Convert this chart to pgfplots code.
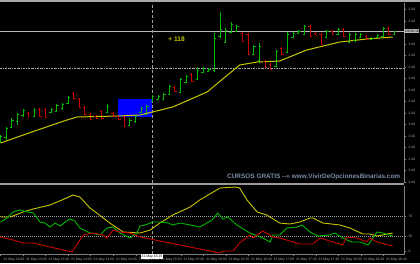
\documentclass[border=0pt]{standalone}
\usepackage{pgfplots}
\pgfplotsset{compat=1.18}
\usepackage{pgfplotstable}
\usepackage{graphicx}
\usepackage{fontspec}
\setmainfont{Liberation Sans}
\definecolor{upg}{RGB}{0,185,0}
\definecolor{dnr}{RGB}{200,0,0}
\definecolor{mayel}{RGB}{200,200,0}
\definecolor{axgray}{RGB}{128,128,128}
\definecolor{lblgray}{RGB}{170,170,170}
\definecolor{wm}{RGB}{125,140,165}
\pgfdeclareplotmark{otick}{\pgfpathmoveto{\pgfqpoint{-1.8pt}{0pt}}\pgfpathlineto{\pgfqpoint{0pt}{0pt}}\pgfusepathqstroke}
\pgfdeclareplotmark{ctick}{\pgfpathmoveto{\pgfqpoint{0pt}{0pt}}\pgfpathlineto{\pgfqpoint{1.8pt}{0pt}}\pgfusepathqstroke}

\pgfplotstableread{
i hi lo op cl
0 23984.5 23980.5 23981.5 23984
1 23988.5 23982 23983.5 23988
2 23993 23988 23988.5 23992
3 23995.5 23989.5 23991.5 23995
4 23997.5 23993.5 23994.5 23997
6 23998 23993.5 23994 23997
9 23998 23995.5 23996 23997.5
10 24000 23996 23996.5 23999.5
11 24000.5 23997 23998 24000
12 24004 24000 24000.5 24003.5
19 24000 23995.5 23996 23999
23 23993 23989 23989.5 23992
24 23994.5 23990.5 23991.5 23994
25 23998.5 23995.5 23996 23998
26 23999.5 23994.5 23995 23999
27 24004.5 24001 24001.5 24004
28 24004.5 24002 24002.5 24004
29 24005.5 24002 24002.5 24005
30 24009.5 24004.5 24005 24009
32 24013 24005.5 24006 24012.5
33 24014.5 24010.5 24011 24014
35 24018.5 24012 24012.5 24017
36 24018.5 24015.5 24016 24018
37 24018 24016 24016.5 24017.5
38 24035.5 24016 24017 24033
39 24046 24033 24034 24037.5
40 24038 24030.5 24031 24037
41 24041 24035.5 24036 24040
42 24039.5 24036 24036.5 24039
45 24029.5 24024.5 24025 24029
46 24030.5 24020.5 24022 24029
49 24027 24018.5 24019 24026.5
51 24036 24025.5 24026 24035
52 24036 24033 24033.5 24035.5
53 24037 24035.5 24035.5 24036.5
54 24039.5 24034.5 24035 24039
58 24037 24033 24033.5 24036.5
60 24038 24034.5 24035 24037.5
62 24035.5 24030.5 24031 24035
63 24035.5 24031 24032 24035
64 24035.5 24033 24033.5 24035
66 24033.5 24032 24032.5 24033
67 24035 24033 24033.5 24034.5
68 24038.5 24033.5 24034 24038
70 24036.5 24034.5 24035 24036.5
}\greenbars

\pgfplotstableread{
i hi lo op cl
5 23996 23993.5 23995.5 23994
7 23998 23993.5 23997.5 23994
8 23998 23993 23997.5 23993.5
13 24006 24002.5 24005.5 24003
14 24003 23998 24002.5 23998.5
15 23999 23994.5 23998.5 23995
16 23995.5 23992 23995 23992.5
17 23994.5 23992.5 23994 23993
18 23997 23992.5 23996.5 23993
20 23996 23993.5 23995.5 23994
21 23994.5 23992 23994 23992.5
22 23994.5 23988.5 23994 23989
31 24009 24006 24008.5 24006.5
34 24015.5 24011 24015 24011.5
43 24036 24031 24035.5 24031.5
44 24035.5 24024.5 24035 24025
47 24022 24018 24021.5 24018.5
48 24020.5 24017 24020 24017.5
50 24028.5 24024.5 24028 24025
55 24039.5 24033.5 24039 24034
56 24036 24034.5 24035.5 24034.5
57 24035.5 24029.5 24035 24030
59 24037 24034.5 24036.5 24035
61 24038 24033.5 24037.5 24034
65 24034.5 24032 24034 24032.5
69 24038.5 24034.5 24038 24035
}\redbars

\begin{document}
\begin{tikzpicture}
\path[use as bounding box] (0pt,0pt) rectangle (420pt,263pt);
\fill[black] (0pt,0pt) rectangle (420pt,263pt);
\fill[lblgray] (0pt,261pt) rectangle (420pt,263pt);
\fill[gray!80] (0pt,78pt) rectangle (404pt,80.5pt);

\begin{axis}[
  scale only axis, width=404pt, height=180pt,
  at={(0pt,80pt)}, anchor=south west,
  xmin=-0.1, xmax=71.7, ymin=23960.5, ymax=24050.5,
  axis line style={draw=none},
  xtick=\empty, ytick pos=right, yticklabel pos=right,
  ytick={23961,23966.75,23972.5,23978.25,23984,23989.75,23995.5,24001.25,24007,24012.75,24018.5,24024.25,24030,24041.5,24047.25},
  tick align=outside, major tick length=2pt,
  ytick style={draw=axgray},
  yticklabel style={font=\fontsize{3.4}{4}\selectfont, text=lblgray, xshift=-1pt,
    /pgf/number format/fixed, /pgf/number format/fixed zerofill, /pgf/number format/precision=2,
    /pgf/number format/1000 sep={}, /pgf/number format/assume math mode=true},
  clip=false,
]
\fill[blue] (axis cs:20.9,23993.5) rectangle (axis cs:26.9,24002.5);
\draw[gray!55, line width=0.4pt] (axis cs:-0.1,24036.5) -- (axis cs:71.7,24036.5);
\draw[gray!70, line width=0.5pt, dash pattern=on 2pt off 1pt on 0.6pt off 1pt] (axis cs:-0.1,24018) -- (axis cs:71.7,24018);
\draw[gray!75, line width=0.6pt, dash pattern=on 3pt off 2pt] (axis cs:26.9,23960.5) -- (axis cs:26.9,24050.5);
\draw[axgray, line width=0.5pt] (rel axis cs:1,0) -- (rel axis cs:1,1);

\addplot[draw=none, mark=none, forget plot, error bars/.cd, y dir=minus, y explicit, error mark=none,
  error bar style={draw=upg, line width=1pt}]
  table[x=i, y=hi, y error minus expr=\thisrow{hi}-\thisrow{lo}] {\greenbars};
\addplot[upg, only marks, mark=otick, mark options={line width=0.8pt}, forget plot] table[x=i, y=op] {\greenbars};
\addplot[upg, only marks, mark=ctick, mark options={line width=0.8pt}, forget plot] table[x=i, y=cl] {\greenbars};

\addplot[draw=none, mark=none, forget plot, error bars/.cd, y dir=minus, y explicit, error mark=none,
  error bar style={draw=dnr, line width=1pt}]
  table[x=i, y=hi, y error minus expr=\thisrow{hi}-\thisrow{lo}] {\redbars};
\addplot[dnr, only marks, mark=otick, mark options={line width=0.8pt}, forget plot] table[x=i, y=op] {\redbars};
\addplot[dnr, only marks, mark=ctick, mark options={line width=0.8pt}, forget plot] table[x=i, y=cl] {\redbars};

\addplot[mayel, line width=1pt, mark=none] coordinates {
(0,23980.5) (5.8,23986.25) (11.8,23992) (13.6,23993.5) (20.9,23994) (24.8,23994.5)
(30.6,23998.5) (36.7,24006) (42.5,24019.5) (45.6,24021) (49.6,24021.5) (54.4,24027)
(60.3,24031) (65.1,24032.5) (69.7,24033.5)};

\node[anchor=west, text=mayel, font=\fontsize{6.6}{7}\selectfont\bfseries] at (axis cs:29.2,24032.5) {+ 118};
\node[anchor=west, fill=lblgray!80!white, text=black, inner sep=0.4pt, font=\fontsize{3.4}{4}\selectfont] at (axis cs:71.75,24036.5) {24036.50};
\end{axis}

\node[anchor=west, inner sep=0pt, text=wm] at (227pt,86pt) {\resizebox{173pt}{!}{\bfseries CURSOS GRATIS -{}->> www.VivirDeOpcionesBinarias.com}};

\begin{axis}[
  scale only axis, width=404pt, height=68pt,
  at={(0pt,9pt)}, anchor=south west,
  xmin=-0.1, xmax=71.7, ymin=-6, ymax=130,
  axis line style={draw=none},
  xtick pos=bottom, ytick pos=right, yticklabel pos=right,
  ytick={0,30,70},
  xtick={0,4,...,68},
  xticklabels={21 May 13:00,21 May 13:20,21 May 13:40,21 May 14:00,21 May 14:20,21 May 14:40,21 May 15:00,21 May 15:20,21 May 15:40,21 May 16:00,21 May 16:20,21 May 16:40,21 May 17:00,21 May 17:20,21 May 17:40,21 May 18:00,21 May 18:20,21 May 18:40},
  tick align=outside, major tick length=2pt,
  tick style={draw=axgray},
  yticklabel style={font=\fontsize{3.4}{4}\selectfont, text=lblgray, xshift=-1pt, /pgf/number format/assume math mode=true},
  xticklabel style={font=\fontsize{3.4}{4}\selectfont, text=lblgray, anchor=north west, xshift=-0.5pt, yshift=1pt},
  clip=false,
]
\draw[gray!75, line width=0.5pt, dash pattern=on 1pt off 1pt] (axis cs:-0.1,70) -- (axis cs:71.7,70);
\draw[gray!75, line width=0.5pt, dash pattern=on 1pt off 1pt] (axis cs:-0.1,30) -- (axis cs:71.7,30);
\draw[gray!75, line width=0.6pt, dash pattern=on 3pt off 2pt] (axis cs:26.9,-6) -- (axis cs:26.9,130);
\draw[axgray, line width=0.5pt] (rel axis cs:0,0) -- (rel axis cs:1,0) -- (rel axis cs:1,1);

\addplot[mayel, line width=0.9pt, mark=none] coordinates {
(0,68) (1.7,68) (4,78) (5.8,84) (8.8,92) (10.9,102) (12.9,112) (14.1,108) (15.9,86) (17.1,76)
(19.4,56) (21.8,38) (24.8,36) (26.6,42) (28.3,56) (30.6,72) (33.7,88) (35.4,102) (39,126)
(41.7,128) (42.5,126) (43.8,102) (45.6,78) (47.3,72) (49.6,56) (51.4,54) (53.2,58) (55,66)
(55.5,66) (57.3,56) (60.3,52) (62.1,46) (64.4,34) (65.6,34) (66.9,30) (67.9,32) (69.7,36)};

\addplot[upg, line width=0.9pt, mark=none] coordinates {
(0,58) (1.15,66) (2.2,78) (3.5,82) (4.7,78) (5.8,76) (7,58) (7.9,56) (8.8,48) (9.7,56)
(10.6,50) (11.5,58) (12.3,64) (13.2,60) (14.1,46) (15.9,36) (17.7,32) (18.9,46) (20,48)
(21.2,36) (23,26) (24.2,36) (24.8,50) (25.7,52) (27.1,58) (28.3,58) (29.8,56) (30.6,52)
(31.9,56) (33.7,52) (35.4,48) (37.6,62) (38.6,76) (39.5,64) (40.4,68) (42,52) (44.3,36)
(46.6,26) (47.9,18) (48.4,32) (49.6,32) (50.9,46) (52.7,48) (53.6,52) (55,38) (56.4,30)
(58.5,32) (59.4,36) (60.8,26) (62.4,18) (63.9,18) (65.3,12) (66.9,38) (67.9,36) (69.7,30)};

\addplot[dnr, line width=0.9pt, mark=none] coordinates {
(0,28) (2.2,22) (4,16) (5.8,16) (8.8,8) (12.7,-2) (14.7,32) (16.4,36) (18.2,32) (18.9,26)
(20,42) (21.2,38) (23,36) (24.8,28) (39,-4) (39.5,0) (41.3,0) (42.5,16) (44.3,32) (44.9,26)
(46.6,40) (48.4,28) (49.6,26) (51.4,20) (53.2,14) (55.5,14) (56.8,26) (58.5,20) (60.3,14)
(60.8,12) (61.5,28) (63.3,26) (65.1,18) (65.6,26) (66.9,18) (69.7,10)};

\node[anchor=north, fill=white, text=black, inner sep=0.6pt, font=\fontsize{3.4}{4}\selectfont] at (axis cs:26.9,-6.5) {21 May 15:15};
\end{axis}
\end{tikzpicture}
\end{document}
